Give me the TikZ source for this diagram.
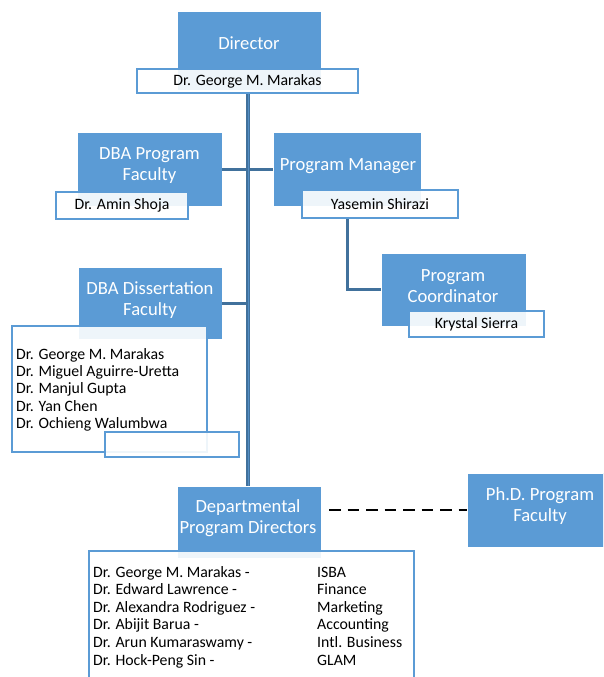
\documentclass[tikz,border=0pt]{standalone}
\usepackage{fontspec}
\setmainfont{Carlito}
\definecolor{acc}{HTML}{5B9BD5}
\definecolor{conn}{HTML}{41719C}
\begin{document}
\begin{tikzpicture}[x=1pt,y=-1pt,
  bluebox/.style={fill=acc,draw=white,line width=0.8pt,inner sep=0pt,outer sep=0pt,anchor=north west},
  whitebox/.style={fill=white,fill opacity=0.9,text opacity=1,draw=acc,line width=2pt,inner sep=0pt,outer sep=0pt,anchor=north west,
    font=\fontsize{15.8}{17.6}\selectfont},
  btext/.style={text=white,font=\fontsize{18.6}{21}\selectfont,align=center,inner sep=0pt},
  wtext/.style={text=black,font=\fontsize{15.8}{17.6}\selectfont,inner sep=0pt,anchor=base west},
  link/.style={draw=conn,line width=3pt},
  trunkin/.style={draw=acc!70!conn,line width=1pt},
  dashline/.style={draw=black,line width=2.8pt,dash pattern=on 11.5pt off 7pt},
]
\useasboundingbox (0,0) rectangle (603,677);
\clip (0,0) rectangle (603,677);

% blue boxes
\node[bluebox,minimum width=144pt,minimum height=79pt] (dirb) at (177,11) {};
\node[bluebox,minimum width=145pt,minimum height=74pt] (dbapb) at (77,132) {};
\node[bluebox,minimum width=148pt,minimum height=74pt] (pmb) at (273,132) {};
\node[bluebox,minimum width=145pt,minimum height=73pt] (pcb) at (381,253) {};
\node[bluebox,minimum width=144pt,minimum height=72pt] (ddb) at (78,267) {};
\node[bluebox,minimum width=144pt,minimum height=72pt] (deptb) at (177,486) {};
\node[bluebox,minimum width=145pt,minimum height=74pt] (phdb) at (467,473) {};

% connectors
\coordinate (ttop) at (248,93);
\coordinate (tmid) at (248,303);
\draw[link] (pmb.south |- 0,218) |- (pcb.west);
\draw[link] (dbapb.east) -- (pmb.west);
\draw[link] (ddb.east) -- (tmid);
\draw[link,line width=3.6pt] (ttop) -- (ttop |- deptb.north);
\draw[trunkin] (ttop) -- (ttop |- deptb.north);
\draw[dashline] (phdb.west -| deptb.east) ++(8,0) -- (phdb.west);

% white boxes
\node[whitebox,minimum width=221pt,minimum height=24pt] (dirw) at (137,69) {Dr. George M. Marakas};
\node[whitebox,minimum width=132pt,minimum height=27pt] (dbapw) at (56,192) {Dr. Amin Shoja};
\node[whitebox,minimum width=156pt,minimum height=28pt] (pmw) at (302,190) {Yasemin Shirazi};
\node[whitebox,minimum width=135pt,minimum height=26pt] (pcw) at (409,311) {Krystal Sierra};
\node[whitebox,minimum width=195pt,minimum height=126pt] (ddw) at (12,326) {};
\node[whitebox,minimum width=134pt,minimum height=25pt] (ddw2) at (105,432) {};
\node[whitebox,minimum width=325pt,minimum height=150pt] (deptw) at (89,551) {};

% blue box texts
\node[btext] (dirt) at (249,43) {Director};
\node[btext] (dbapt) at (149.5,165.5) {DBA Program\\Faculty};
\node[btext] (pmt) at (348,166) {Program Manager};
\node[btext] (pct) at (453,286.5) {Program\\Coordinator};
\node[btext] (ddt) at (150,300.5) {DBA Dissertation\\Faculty};
\node[btext] (deptt) at (248,518.5) {Departmental\\Program Directors};
\node[btext] (phdt) at (540,506.5) {Ph.D. Program\\Faculty};

% lists
\foreach \t [count=\i] in {Dr. George M. Marakas, Dr. Miguel Aguirre-Uretta, Dr. Manjul Gupta, Dr. Yan Chen, Dr. Ochieng Walumbwa}
  \node[wtext] (dd\i) at (16,{359+17.4*(\i-1)}) {\t};
\foreach \a/\b [count=\i] in {Dr. George M. Marakas -/ISBA, Dr. Edward Lawrence -/Finance, Dr. Alexandra Rodriguez -/Marketing, Dr. Abijit Barua -/Accounting, Dr. Arun Kumaraswamy -/Intl. Business, Dr. Hock-Peng Sin -/GLAM}
{
  \node[wtext] (dpn\i) at (93,{577+17.6*(\i-1)}) {\a};
  \node[wtext] (dpd\i) at (317,{577+17.6*(\i-1)}) {\b};
}
\end{tikzpicture}
\end{document}
